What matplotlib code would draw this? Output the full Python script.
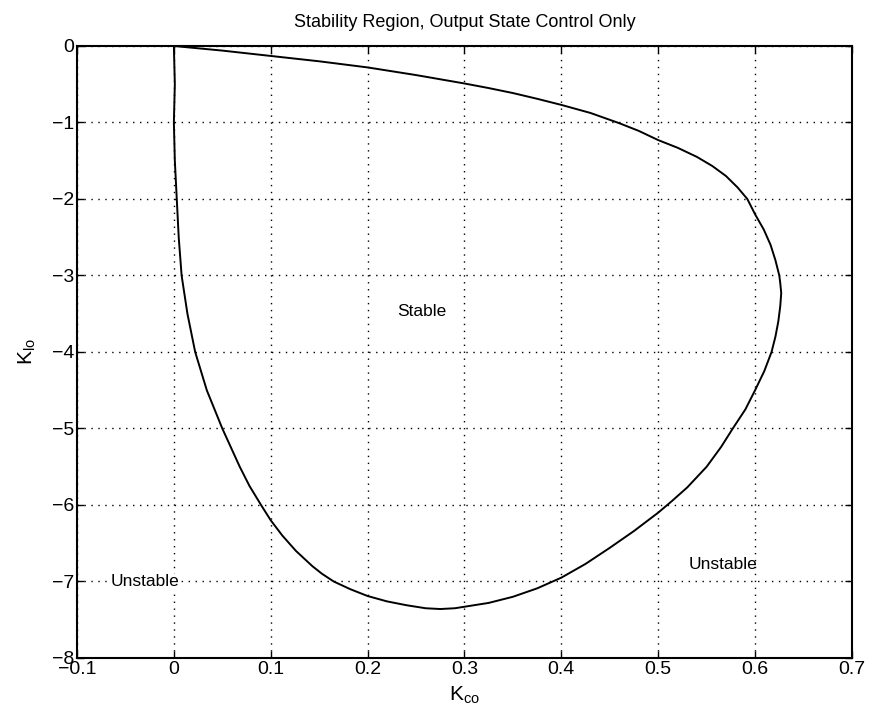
import numpy as np
import matplotlib
matplotlib.use('Agg')
import matplotlib.pyplot as plt

plt.rcParams['font.family'] = 'Liberation Sans'
plt.rcParams['mathtext.fontset'] = 'custom'
plt.rcParams['mathtext.rm'] = 'Liberation Sans'
plt.rcParams['mathtext.default'] = 'regular'

# stability boundary in the (Kco, Klo) plane, traced down the left side,
# round the bottom, up the right side and back along the top
kco = [0.0, 0.001, 0.0, 0.001, 0.003, 0.005, 0.008, 0.014, 0.022, 0.034,
       0.05, 0.059, 0.068, 0.078, 0.09, 0.1, 0.112, 0.126, 0.143, 0.153,
       0.165, 0.182, 0.2, 0.22, 0.24, 0.26, 0.275, 0.29, 0.3, 0.325,
       0.35, 0.375, 0.4, 0.425, 0.45, 0.475, 0.5, 0.514, 0.53, 0.55,
       0.565, 0.577, 0.59, 0.6, 0.6095, 0.617, 0.621, 0.624, 0.626, 0.627,
       0.626, 0.625, 0.621, 0.616, 0.609, 0.6, 0.592, 0.582, 0.57, 0.556,
       0.54, 0.52, 0.5, 0.48, 0.46, 0.43, 0.4, 0.375, 0.35, 0.325,
       0.3, 0.25, 0.2, 0.15, 0.1, 0.05, 0.0]
klo = [0.0, -0.5, -1.0, -1.5, -2.0, -2.5, -3.0, -3.5, -4.0, -4.5,
       -5.0, -5.25, -5.5, -5.75, -6.0, -6.2, -6.4, -6.6, -6.8, -6.9,
       -7.0, -7.1, -7.19, -7.26, -7.31, -7.35, -7.36, -7.35, -7.33, -7.28,
       -7.2, -7.09, -6.95, -6.77, -6.56, -6.34, -6.1, -5.95, -5.77, -5.5,
       -5.24, -5.0, -4.75, -4.5, -4.25, -4.0, -3.8, -3.6, -3.4, -3.23,
       -3.1, -3.0, -2.8, -2.6, -2.4, -2.2, -2.0, -1.85, -1.7, -1.57,
       -1.45, -1.33, -1.23, -1.11, -1.01, -0.875, -0.77, -0.69, -0.615, -0.55,
       -0.49, -0.38, -0.28, -0.2, -0.13, -0.06, 0.0]

xticks = [-0.1, 0, 0.1, 0.2, 0.3, 0.4, 0.5, 0.6, 0.7]
xlabels = ['-0.1', '0', '0.1', '0.2', '0.3', '0.4', '0.5', '0.6', '0.7']
yticks = [0, -1, -2, -3, -4, -5, -6, -7, -8]

fig = plt.figure(figsize=(8.72, 7.21), dpi=100)
ax = fig.add_axes([0.0883, 0.0874, 0.8887, 0.8488])

ax.plot(kco, klo, color='black', linewidth=1.4)

ax.set_xlim(-0.1, 0.7)
ax.set_ylim(-8, 0)
ax.set_xticks(xticks)
ax.set_xticklabels([s.replace('-', '\u2212') for s in xlabels])
ax.set_yticks(yticks)
ax.grid(True, color='black', linestyle=(0, (1, 4)), linewidth=1.0)
ax.tick_params(direction='in', length=5, width=1, top=True, right=True,
               labelsize=14, pad=2)
for s in ax.spines.values():
    s.set_linewidth(1.5)

ax.set_title('Stability Region, Output State Control Only', fontsize=13, pad=14)
ax.set_xlabel('K$_{co}$', fontsize=15, labelpad=5)
ax.set_ylabel('K$_{lo}$', fontsize=15, labelpad=10)

ax.text(0.256, -3.47, 'Stable', fontsize=12.5, ha='center', va='center')
ax.text(-0.065, -7.0, 'Unstable', fontsize=12.5, ha='left', va='center',
        bbox=dict(facecolor='white', edgecolor='none', pad=0))
ax.text(0.531, -6.78, 'Unstable', fontsize=12.5, ha='left', va='center')

fig.savefig('out.png', dpi=100)
